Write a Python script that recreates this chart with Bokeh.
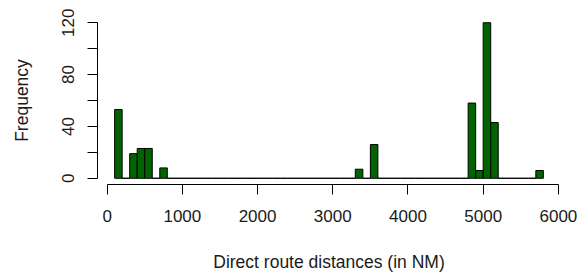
from bokeh.plotting import figure
from bokeh.models import LinearAxis, FixedTicker, ColumnDataSource, Range1d
from bokeh.embed import file_html
from bokeh.resources import INLINE

# Histogram of direct route distances (NM), bins of width 100 from 100 to 5800
bin_starts = list(range(100, 5800, 100))
counts = [53, 0, 19, 23, 23, 0, 8,
          0, 0, 0, 0, 0, 0, 0, 0, 0, 0, 0, 0, 0, 0, 0, 0, 0, 0, 0, 0, 0, 0, 0, 0, 0,
          7, 0, 26,
          0, 0, 0, 0, 0, 0, 0, 0, 0, 0, 0, 0,
          58, 6, 120, 43,
          0, 0, 0, 0, 0,
          6]
bin_width = 100
x_ticks = [0, 1000, 2000, 3000, 4000, 5000, 6000]
y_ticks = [0, 40, 80, 120]
y_minor_ticks = [20, 60, 100]
x_label = "Direct route distances (in NM)"
y_label = "Frequency"

src = ColumnDataSource(dict(
    left=bin_starts,
    right=[b + bin_width for b in bin_starts],
    top=counts,
    bottom=[0] * len(counts),
))

xmin, xmax = bin_starts[0], bin_starts[-1] + bin_width
xpad = 0.04 * (xmax - xmin)
ymax = max(counts)
ypad = 0.04 * ymax

p = figure(width=586, height=275, output_backend="svg", toolbar_location=None,
           x_range=Range1d(xmin - xpad, xmax + xpad),
           y_range=Range1d(-ypad, ymax + ypad),
           x_axis_location=None, y_axis_location=None,
           min_border_left=97, min_border_right=26,
           min_border_top=16, min_border_bottom=91)
p.outline_line_color = None
p.xgrid.visible = False
p.ygrid.visible = False
p.background_fill_color = "white"
p.border_fill_color = "white"

p.quad(left="left", right="right", top="top", bottom="bottom", source=src,
       fill_color="#006400", line_color="black", line_width=1)

FONT = "Liberation Sans"
TXT = "#1a1a1a"

xax = LinearAxis(ticker=FixedTicker(ticks=x_ticks), bounds=(x_ticks[0], x_ticks[-1]))
xax.axis_label = x_label
xax.major_tick_out = 10
xax.major_tick_in = 0
xax.minor_tick_out = 0
xax.minor_tick_in = 0
xax.major_label_standoff = 15
xax.axis_label_standoff = 27
xax.major_label_text_font = FONT
xax.major_label_text_font_size = "17px"
xax.major_label_text_color = TXT
xax.axis_label_text_font = FONT
xax.axis_label_text_font_size = "17.5px"
xax.axis_label_text_font_style = "normal"
xax.axis_label_text_color = TXT
xax.axis_line_color = "black"
xax.major_tick_line_color = "black"
p.add_layout(xax, "below")

yax = LinearAxis(ticker=FixedTicker(ticks=y_ticks, minor_ticks=y_minor_ticks),
                 bounds=(y_ticks[0], y_ticks[-1]))
yax.axis_label = y_label
yax.major_tick_out = 10
yax.major_tick_in = 0
yax.minor_tick_out = 10
yax.minor_tick_in = 0
yax.minor_tick_line_color = "black"
yax.major_label_orientation = "vertical"
yax.major_label_standoff = 13
yax.axis_label_standoff = 28
yax.major_label_text_font = FONT
yax.major_label_text_font_size = "17px"
yax.major_label_text_color = TXT
yax.axis_label_text_font = FONT
yax.axis_label_text_font_size = "17.5px"
yax.axis_label_text_font_style = "normal"
yax.axis_label_text_color = TXT
yax.axis_line_color = "black"
yax.major_tick_line_color = "black"
p.add_layout(yax, "left")

open("out.html", "w").write(file_html(p, INLINE))
